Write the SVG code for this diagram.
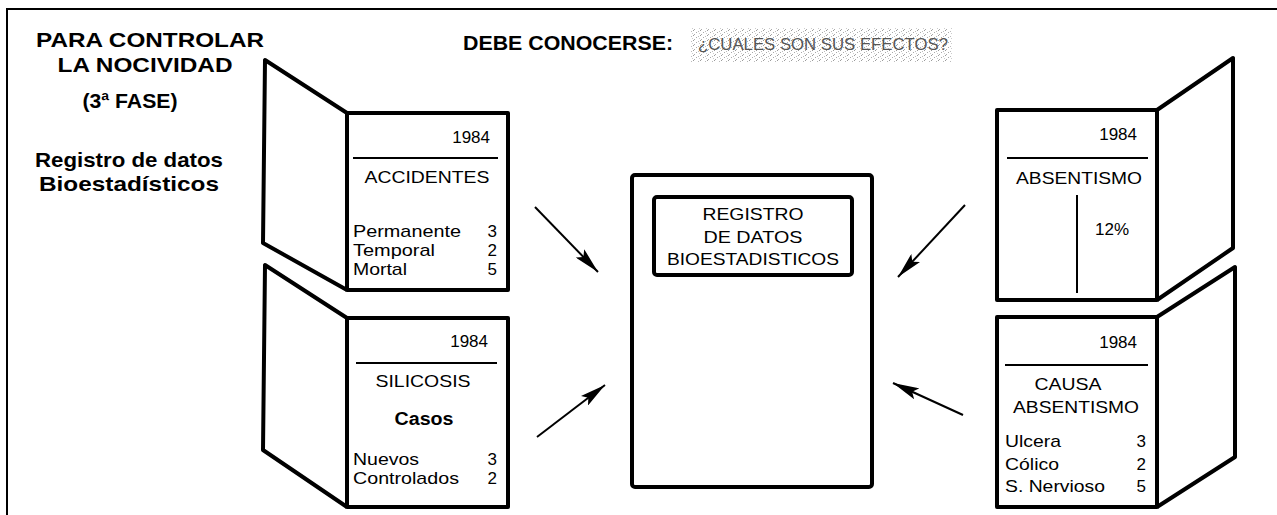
<svg xmlns="http://www.w3.org/2000/svg" width="1277" height="515" viewBox="0 0 1277 515">
<defs>
<style>
.frame{fill:none;stroke:#000;stroke-width:2}
.card{fill:#fff;stroke:#000;stroke-width:4;stroke-linejoin:round}
.flap{fill:#fff;stroke:#000;stroke-width:4;stroke-linejoin:round}
.rule{stroke:#000;stroke-width:2}
.t{font-family:"Liberation Sans",Arial,sans-serif;font-size:17px;fill:#000}
.b{font-family:"Liberation Sans",Arial,sans-serif;font-size:21px;font-weight:bold;fill:#000}
.m{text-anchor:middle}
.e{text-anchor:end}
.q{fill:#555}
.arrow{stroke:#000;stroke-width:2;fill:none}
</style>
<marker id="ah" viewBox="0 0 26 12" refX="26" refY="6" markerWidth="26" markerHeight="12" markerUnits="userSpaceOnUse" orient="auto">
<path d="M0,0 L26,6 L0,12 L5,6 Z" fill="#000"/>
</marker>
<pattern id="stip" width="7" height="5" patternUnits="userSpaceOnUse">
<rect width="7" height="5" fill="#fff"/>
<rect x="0" y="0" width="1" height="1" fill="#999"/>
<rect x="3" y="2" width="1" height="1" fill="#aaa"/>
<rect x="5" y="1" width="1" height="1" fill="#bbb"/>
<rect x="1" y="4" width="1" height="1" fill="#aaa"/>
<rect x="6" y="3" width="1" height="1" fill="#ccc"/>
</pattern>
</defs>
<rect width="1277" height="515" fill="#fff"/>
<path class="frame" d="M7,515 L7,9 L1277,9"/>

<g id="titulo">
<text class="b m" x="150" y="47" textLength="228" lengthAdjust="spacingAndGlyphs">PARA CONTROLAR</text>
<text class="b m" x="145" y="72" textLength="175" lengthAdjust="spacingAndGlyphs">LA NOCIVIDAD</text>
<text class="b m" x="130" y="108" textLength="95" lengthAdjust="spacingAndGlyphs">(3ª FASE)</text>
<text class="b m" x="129" y="167" textLength="188" lengthAdjust="spacingAndGlyphs">Registro de datos</text>
<text class="b m" x="129" y="191" textLength="180" lengthAdjust="spacingAndGlyphs">Bioestadísticos</text>
</g>

<g id="pregunta">
<text class="b" x="463" y="50" textLength="210" lengthAdjust="spacingAndGlyphs">DEBE CONOCERSE:</text>
<rect x="690" y="28" width="262" height="34" fill="url(#stip)"/>
<text class="t q" x="698" y="50" textLength="250" lengthAdjust="spacingAndGlyphs">¿CUALES SON SUS EFECTOS?</text>
</g>

<g id="accidentes">
<path class="flap" d="M347,113 L265,60 L263,243 L347,290"/>
<rect class="card" x="347" y="113" width="161" height="177"/>
<text class="t e" x="490" y="143">1984</text>
<line class="rule" x1="353" y1="158" x2="498" y2="158"/>
<text class="t m" x="427" y="183" textLength="125" lengthAdjust="spacingAndGlyphs">ACCIDENTES</text>
<text class="t" x="353" y="237" textLength="108" lengthAdjust="spacingAndGlyphs">Permanente</text><text class="t e" x="497" y="237">3</text>
<text class="t" x="353" y="256" textLength="82" lengthAdjust="spacingAndGlyphs">Temporal</text><text class="t e" x="497" y="256">2</text>
<text class="t" x="353" y="275" textLength="54" lengthAdjust="spacingAndGlyphs">Mortal</text><text class="t e" x="497" y="275">5</text>
</g>

<g id="silicosis">
<path class="flap" d="M347,318 L265,265 L263,450 L347,507"/>
<rect class="card" x="347" y="318" width="161" height="189"/>
<text class="t e" x="488" y="347">1984</text>
<line class="rule" x1="356" y1="363" x2="497" y2="363"/>
<text class="t m" x="423" y="387" textLength="95" lengthAdjust="spacingAndGlyphs">SILICOSIS</text>
<text class="b m" x="424" y="425" style="font-size:18px" textLength="59" lengthAdjust="spacingAndGlyphs">Casos</text>
<text class="t" x="353" y="465" textLength="66" lengthAdjust="spacingAndGlyphs">Nuevos</text><text class="t e" x="497" y="465">3</text>
<text class="t" x="353" y="484" textLength="106" lengthAdjust="spacingAndGlyphs">Controlados</text><text class="t e" x="497" y="484">2</text>
</g>

<g id="registro">
<rect class="card" x="632" y="175" width="240" height="312" rx="3"/>
<rect class="card" x="654" y="197" width="198" height="78" rx="3"/>
<text class="t m" x="753" y="220" textLength="101" lengthAdjust="spacingAndGlyphs">REGISTRO</text>
<text class="t m" x="753" y="243" textLength="99" lengthAdjust="spacingAndGlyphs">DE DATOS</text>
<text class="t m" x="753" y="265" textLength="172" lengthAdjust="spacingAndGlyphs">BIOESTADISTICOS</text>
</g>

<g id="absentismo">
<path class="flap" d="M1157,110 L1233,58 L1233,248 L1157,300"/>
<rect class="card" x="997" y="110" width="160" height="190"/>
<text class="t e" x="1137" y="140">1984</text>
<line class="rule" x1="1007" y1="158" x2="1148" y2="158"/>
<text class="t m" x="1079" y="184" textLength="126" lengthAdjust="spacingAndGlyphs">ABSENTISMO</text>
<line class="rule" x1="1077" y1="195" x2="1077" y2="293"/>
<text class="t" x="1095" y="235">12%</text>
</g>

<g id="causa">
<path class="flap" d="M1157,317 L1235,267 L1235,457 L1157,507"/>
<rect class="card" x="997" y="317" width="160" height="190"/>
<text class="t e" x="1137" y="348">1984</text>
<line class="rule" x1="1005" y1="365" x2="1148" y2="365"/>
<text class="t m" x="1068" y="390" textLength="67" lengthAdjust="spacingAndGlyphs">CAUSA</text>
<text class="t m" x="1076" y="413" textLength="126" lengthAdjust="spacingAndGlyphs">ABSENTISMO</text>
<text class="t" x="1005" y="447" textLength="56" lengthAdjust="spacingAndGlyphs">Ulcera</text><text class="t e" x="1146" y="447">3</text>
<text class="t" x="1005" y="470" textLength="54" lengthAdjust="spacingAndGlyphs">Cólico</text><text class="t e" x="1146" y="470">2</text>
<text class="t" x="1005" y="492" textLength="100" lengthAdjust="spacingAndGlyphs">S. Nervioso</text><text class="t e" x="1146" y="492">5</text>
</g>

<g id="conectores">
<line class="arrow" x1="535" y1="207" x2="598" y2="272" marker-end="url(#ah)"/>
<line class="arrow" x1="537" y1="437" x2="605" y2="385" marker-end="url(#ah)"/>
<line class="arrow" x1="965" y1="205" x2="898" y2="277" marker-end="url(#ah)"/>
<line class="arrow" x1="963" y1="415" x2="893" y2="383" marker-end="url(#ah)"/>
</g>
</svg>
